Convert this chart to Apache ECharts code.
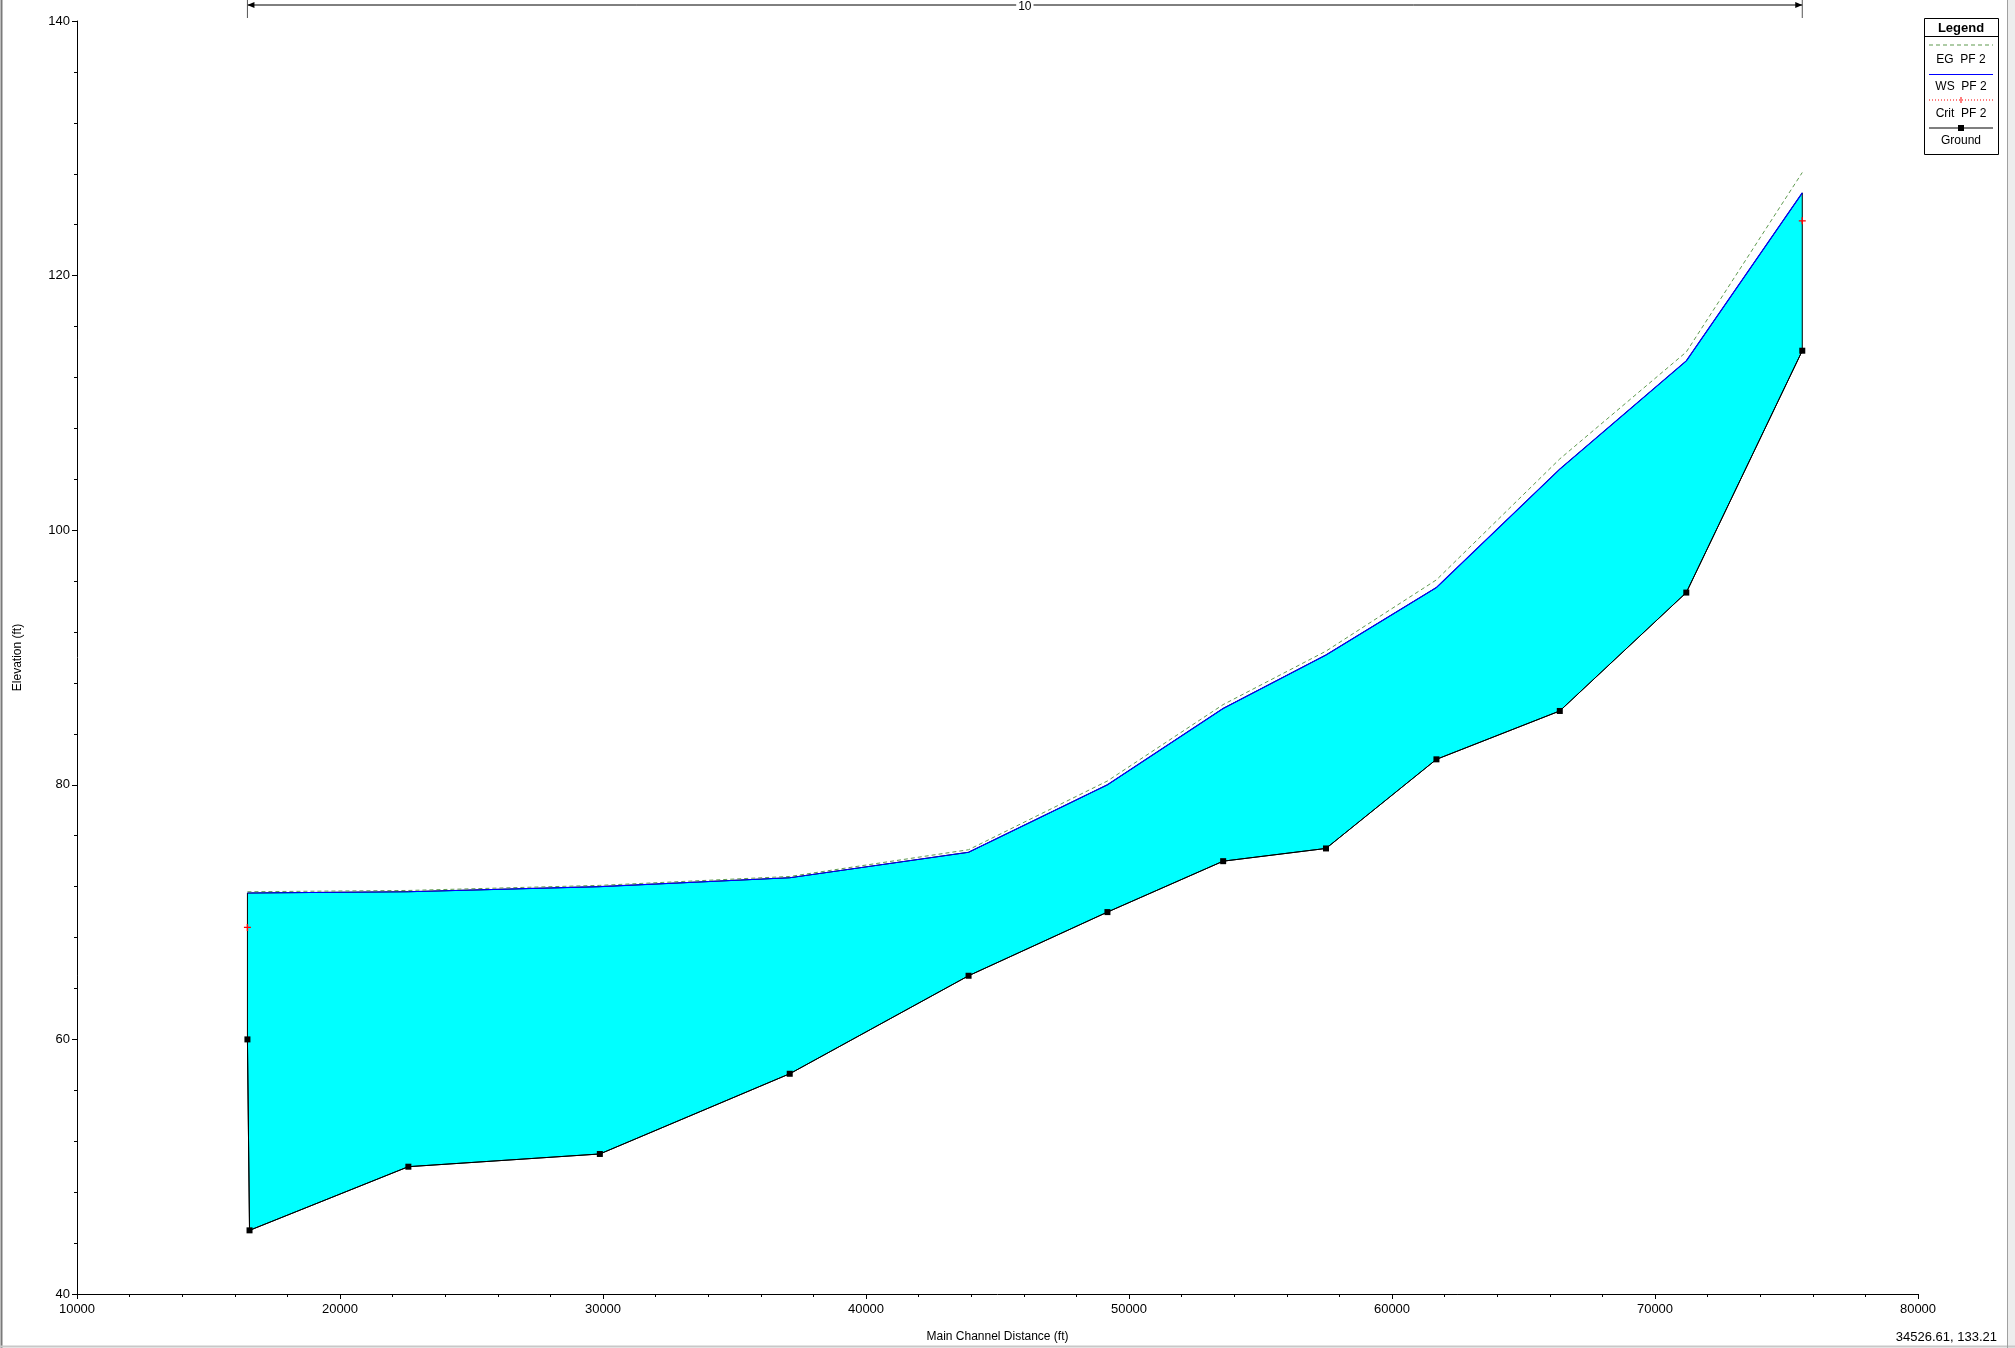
<!DOCTYPE html>
<html>
<head>
<meta charset="utf-8">
<script src="https://cdn.jsdelivr.net/npm/echarts@6/dist/echarts.min.js"></script>
<style>
html,body{margin:0;padding:0;background:#fff;}
#main{width:2015px;height:1348px;}
</style>
</head>
<body>
<div id="main"></div>
<script>
// ---- data ----
const stations = [16480, 22600, 29880, 37100, 43900, 49180, 53580, 57490, 61690, 66380, 71190, 75600];
const wsPF2 = [71.5, 71.6, 72.0, 72.7, 74.7, 80.0, 86.0, 90.2, 95.5, 104.8, 113.3, 126.5];
const egPF2 = [71.6, 71.7, 72.1, 72.8, 74.9, 80.3, 86.3, 90.5, 96.1, 105.6, 114.0, 128.1];
const groundX = [16480, 16560, 22600, 29880, 37100, 43900, 49180, 53580, 57490, 61690, 66380, 71190, 75600];
const groundY = [60.0, 45.0, 50.0, 51.0, 57.3, 65.0, 70.0, 74.0, 75.0, 82.0, 85.8, 95.1, 114.1];
const critX = [16480, 75600];
const critY = [68.8, 124.3];
const seriesNames = ['EG  PF 2', 'WS  PF 2', 'Crit  PF 2', 'Ground'];
const reachLabel = '10';
const cursorReadout = '34526.61, 133.21';
const xTitle = 'Main Channel Distance (ft)';
const yTitle = 'Elevation (ft)';

const FONT = '"Liberation Sans", Arial, sans-serif';
const chart = echarts.init(document.getElementById('main'), null, {renderer: 'canvas'});

const zip = (xs, ys) => xs.map((x, i) => [x, ys[i]]);

const axisCommon = {
  type: 'value',
  axisLine: {show: true, lineStyle: {color: '#000', width: 1}},
  axisTick: {show: true, length: 5, lineStyle: {color: '#000'}},
  minorTick: {show: true, splitNumber: 5, length: 3, lineStyle: {color: '#000'}},
  splitLine: {show: false},
  minorSplitLine: {show: false},
  nameTextStyle: {color: '#000', fontSize: 12, fontFamily: FONT},
};

const option = {
  backgroundColor: '#fff',
  animation: false,
  grid: {left: 77, top: 21, width: 1841, height: 1273, containLabel: false, outerBoundsMode: 'none'},
  xAxis: Object.assign({}, axisCommon, {
    min: 10000, max: 80000, interval: 10000,
    name: xTitle, nameLocation: 'middle', nameGap: 37,
    axisLabel: {color: '#000', fontSize: 13, fontFamily: FONT, margin: 9, formatter: v => String(v)},
  }),
  yAxis: Object.assign({}, axisCommon, {
    min: 40, max: 140, interval: 20,
    name: yTitle, nameLocation: 'middle', nameGap: 53, nameRotate: 90,
    axisLabel: {color: '#000', fontSize: 13, fontFamily: FONT, margin: 7, formatter: v => String(v)},
  }),
  series: [
    {
      type: 'custom',
      name: 'fill',
      silent: true,
      z: 1,
      data: [[stations[0], wsPF2[0]]],
      encode: {x: 0, y: 1},
      renderItem: function (params, api) {
        const pts = [];
        for (let i = 0; i < stations.length; i++) pts.push(api.coord([stations[i], wsPF2[i]]));
        for (let i = groundX.length - 1; i >= 0; i--) pts.push(api.coord([groundX[i], groundY[i]]));
        return {type: 'polygon', shape: {points: pts}, style: {fill: '#00ffff', stroke: '#000', lineWidth: 1}};
      }
    },
    {
      type: 'line', name: seriesNames[3], z: 3,
      data: zip(groundX, groundY),
      lineStyle: {color: '#000', width: 1},
      symbol: 'rect', symbolSize: 6, showSymbol: true,
      itemStyle: {color: '#000'},
    },
    {
      type: 'line', name: seriesNames[1], z: 4,
      data: zip(stations, wsPF2),
      lineStyle: {color: '#0000ff', width: 1.2},
      symbol: 'none',
    },
    {
      type: 'line', name: seriesNames[0], z: 5,
      data: zip(stations, egPF2),
      lineStyle: {color: '#5f9a4f', width: 1, type: [4, 3]},
      symbol: 'none',
    },
    {
      type: 'line', name: seriesNames[2], z: 6,
      data: [[critX[0], critY[0]], [critX[0] + 1, '-'], [critX[1], critY[1]]],
      connectNulls: false,
      lineStyle: {color: '#ff0000', width: 1, type: 'dotted'},
      symbol: 'path://M0 4H10V6H0Z M4 0H6V10H4Z', symbolSize: 7, showSymbol: true,
      itemStyle: {color: '#ff0000'},
    },
  ],
};
chart.setOption(option);

// ---- overlays: reach marker, legend box, readout, window frame ----
const pL = chart.convertToPixel({gridIndex: 0}, [stations[0], 140]);
const pR = chart.convertToPixel({gridIndex: 0}, [stations[stations.length - 1], 140]);
const yMark = 5;
const midX = (pL[0] + pR[0]) / 2;

const legendX = 1924, legendY = 18, legendW = 74, legendH = 136;
const legendRows = [
  {line: 45, text: 60, stroke: '#5f9a4f', dash: [4, 3], sym: null},
  {line: 74.5, text: 87, stroke: '#0000ff', dash: null, sym: null},
  {line: 100, text: 114, stroke: '#ff0000', dash: [1, 2], sym: 'plus'},
  {line: 128, text: 141, stroke: '#000', dash: null, sym: 'rect'},
];
const legendEls = [
  {type: 'rect', shape: {x: legendX + 0.5, y: legendY + 0.5, width: legendW, height: legendH},
   style: {fill: '#fff', stroke: '#000', lineWidth: 1}},
  {type: 'text', x: legendX + legendW / 2, y: legendY + 10,
   style: {text: 'Legend', fontSize: 13, fontWeight: 'bold', fontFamily: FONT, fill: '#000', align: 'center', verticalAlign: 'middle'}},
  {type: 'line', shape: {x1: legendX, y1: 36.5, x2: legendX + legendW, y2: 36.5}, style: {stroke: '#000', lineWidth: 1}},
];
legendRows.forEach((r, i) => {
  legendEls.push({type: 'line', shape: {x1: legendX + 5, y1: r.line, x2: legendX + legendW - 5, y2: r.line},
    style: {stroke: r.stroke, lineWidth: 1.2, lineDash: r.dash}});
  if (r.sym === 'rect') legendEls.push({type: 'rect', shape: {x: legendX + legendW / 2 - 3, y: r.line - 3, width: 6, height: 6}, style: {fill: '#000'}});
  if (r.sym === 'plus') legendEls.push({type: 'line', shape: {x1: legendX + legendW / 2, y1: r.line - 3, x2: legendX + legendW / 2, y2: r.line + 3}, style: {stroke: '#ff0000', lineWidth: 1}});
  legendEls.push({type: 'text', x: legendX + legendW / 2, y: r.text,
    style: {text: seriesNames[i], fontSize: 12, fontFamily: FONT, fill: '#000', align: 'center', verticalAlign: 'middle'}});
});

chart.setOption({
  graphic: [
    // window frame
    {type: 'line', shape: {x1: 1.5, y1: 0, x2: 1.5, y2: 1348}, style: {stroke: '#7a7a7a', lineWidth: 2}, z: 100},
    {type: 'line', shape: {x1: 0, y1: 1346.5, x2: 2015, y2: 1346.5}, style: {stroke: '#c8c8c8', lineWidth: 2}, z: 100},
    {type: 'line', shape: {x1: 2007.5, y1: 0, x2: 2007.5, y2: 1348}, style: {stroke: '#a0a0a0', lineWidth: 1}, z: 100},
    {type: 'rect', shape: {x: 2008, y: 0, width: 7, height: 1348}, style: {fill: '#ededed'}, z: 99},
    // reach marker
    {type: 'line', shape: {x1: pL[0], y1: yMark, x2: pR[0], y2: yMark}, style: {stroke: '#000', lineWidth: 1}, z: 50},
    {type: 'line', shape: {x1: pL[0], y1: 0, x2: pL[0], y2: 18}, style: {stroke: '#555', lineWidth: 1}, z: 50},
    {type: 'line', shape: {x1: pR[0], y1: 0, x2: pR[0], y2: 18}, style: {stroke: '#555', lineWidth: 1}, z: 50},
    {type: 'polygon', shape: {points: [[pL[0], yMark], [pL[0] + 7, yMark - 3], [pL[0] + 7, yMark + 3]]}, style: {fill: '#000'}, z: 51},
    {type: 'polygon', shape: {points: [[pR[0], yMark], [pR[0] - 7, yMark - 3], [pR[0] - 7, yMark + 3]]}, style: {fill: '#000'}, z: 51},
    {type: 'text', x: midX, y: yMark + 2, z: 52,
     style: {text: reachLabel, fontSize: 12, fontFamily: FONT, fill: '#000', align: 'center', verticalAlign: 'middle', backgroundColor: '#fff', padding: [0, 2]}},
    // legend
    {type: 'group', z: 60, children: legendEls},
    // cursor readout
    {type: 'text', x: 1997, y: 1337, z: 60,
     style: {text: cursorReadout, fontSize: 13, fontFamily: FONT, fill: '#000', align: 'right', verticalAlign: 'middle'}},
  ]
});
</script>
</body>
</html>
